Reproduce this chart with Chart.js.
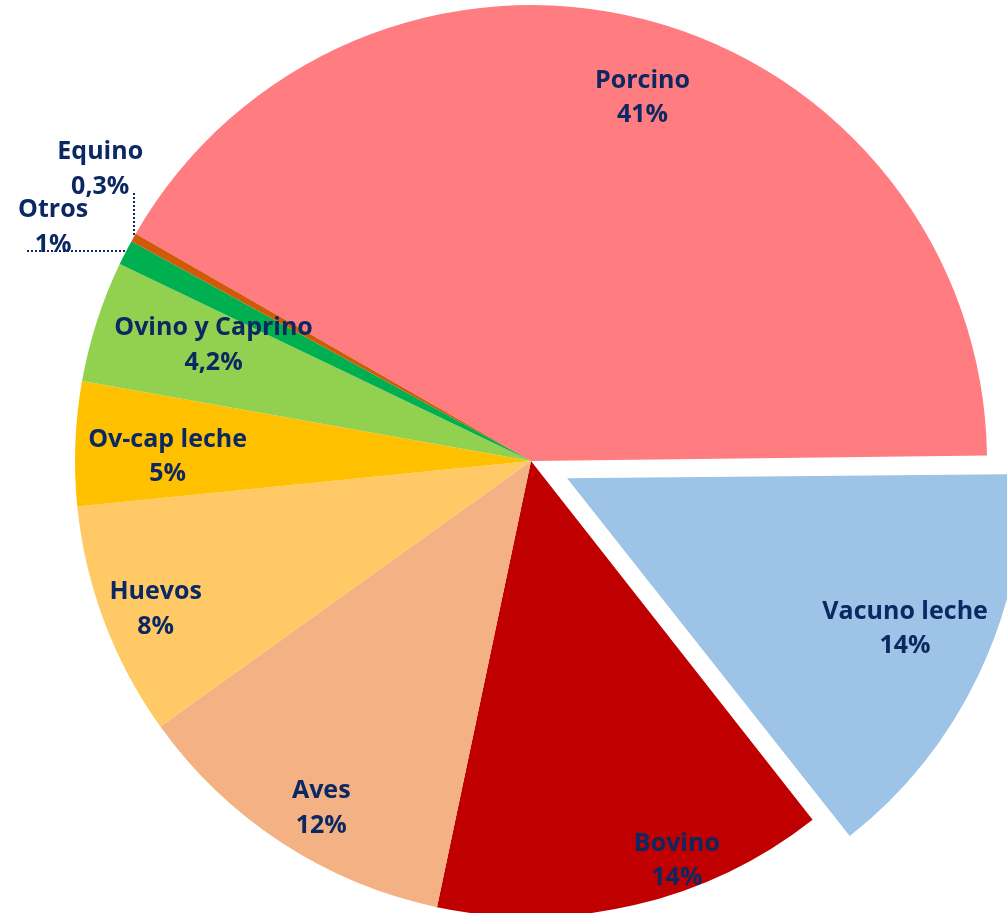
<!DOCTYPE html>
<html><head><meta charset="utf-8">
<script src="https://cdn.jsdelivr.net/npm/chart.js@4.4.1/dist/chart.umd.min.js"></script>
<style>html,body{margin:0;padding:0;background:#fff;overflow:hidden}#wrap{width:1007px;height:913px;position:relative}</style>
</head><body><div id="wrap"><canvas id="c"></canvas></div>
<script>
const categories = ['Porcino','Vacuno leche','Bovino','Aves','Huevos','Ov-cap leche','Ovino y Caprino','Otros','Equino'];
const shares = [41.5, 14.6, 13.9, 11.8, 8.3, 4.4, 4.3, 0.9, 0.3];
const shareLabels = ['41%','14%','14%','12%','8%','5%','4,2%','1%','0,3%'];
const sliceColors = ['#FF7C80','#9DC3E6','#C00000','#F4B183','#FFCA65','#FFC000','#92D050','#00B050','#CF5A0A'];
const explode = [0, 160, 0, 0, 0, 0, 0, 0, 0];

// label placement: angle shift from slice middle (deg), radius fraction, optional leader
const labelLayout = [
  {da: 2.4, rf: 0.836},
  {da: -1.8, rf: 0.81},
  {da: -7.0, rf: 0.93},
  {da: -1.9, rf: 0.887},
  {da: -0.7, rf: 0.884},
  {da: -1.3, rf: 0.797},
  {da: 2.4, rf: 0.742},
  {da: -1.0, rf: 1.168, leader: 'h'},
  {da: 4.9, rf: 1.143, leader: 'v'}
];
const textColor = '#0B2862';
const fontSpec = 'bold 25px "Open Sans"';

const sliceLabels = {
  id: 'sliceLabels',
  afterDatasetsUpdate(chart) {
    const meta = chart.getDatasetMeta(0);
    const R = meta.controller.outerRadius;
    meta.data.forEach(arc => {
      const off = (arc.options.offset || 0) / 4;
      if (off) {
        const fix = 1 - Math.sin(Math.min(Math.PI, arc.circumference));
        arc.outerRadius = R - off * fix;
      }
    });
  },
  afterDatasetsDraw(chart) {
    const ctx = chart.ctx;
    const meta = chart.getDatasetMeta(0);
    const R = meta.controller.outerRadius;
    ctx.save();
    meta.data.forEach((arc, i) => {
      const L = labelLayout[i];
      const mid = (arc.startAngle + arc.endAngle) / 2;
      const off = (arc.options.offset || 0) / 4;
      const cx = arc.x + Math.cos(mid) * off;
      const cy = arc.y + Math.sin(mid) * off;
      const a = mid + L.da * Math.PI / 180;
      const lx = cx + Math.cos(a) * R * L.rf;
      const ly = cy + Math.sin(a) * R * L.rf;
      const px = Math.round(cx + Math.cos(mid) * R);
      const py = Math.round(cy + Math.sin(mid) * R);
      ctx.font = fontSpec;
      if (L.leader) {
        ctx.save();
        ctx.strokeStyle = textColor;
        ctx.lineWidth = 2;
        ctx.setLineDash([2, 2]);
        ctx.beginPath();
        if (L.leader === 'v') {
          ctx.moveTo(px, Math.round(ly + 25));
          ctx.lineTo(px, py);
        } else {
          const w = ctx.measureText(shareLabels[i]).width;
          ctx.moveTo(Math.round(lx - w / 2 - 8), py - 2);
          ctx.lineTo(px, py - 2);
        }
        ctx.stroke();
        ctx.restore();
      }
      ctx.fillStyle = textColor;
      ctx.textAlign = 'center';
      ctx.textBaseline = 'alphabetic';
      ctx.fillText(categories[i], lx, ly - 8.5);
      ctx.fillText(shareLabels[i], lx, ly + 26);
    });
    ctx.restore();
  }
};

new Chart(document.getElementById('c'), {
  type: 'pie',
  data: {
    labels: categories,
    datasets: [{
      data: shares,
      backgroundColor: sliceColors,
      borderWidth: 0,
      offset: explode,
      clip: false
    }]
  },
  options: {
    responsive: true,
    maintainAspectRatio: false,
    animation: false,
    rotation: -60.1,
    radius: 456,
    layout: {padding: {left: 55, right: 0, top: 9, bottom: 0}},
    plugins: {legend: {display: false}, tooltip: {enabled: false}}
  },
  plugins: [sliceLabels]
});
</script>
</body></html>
